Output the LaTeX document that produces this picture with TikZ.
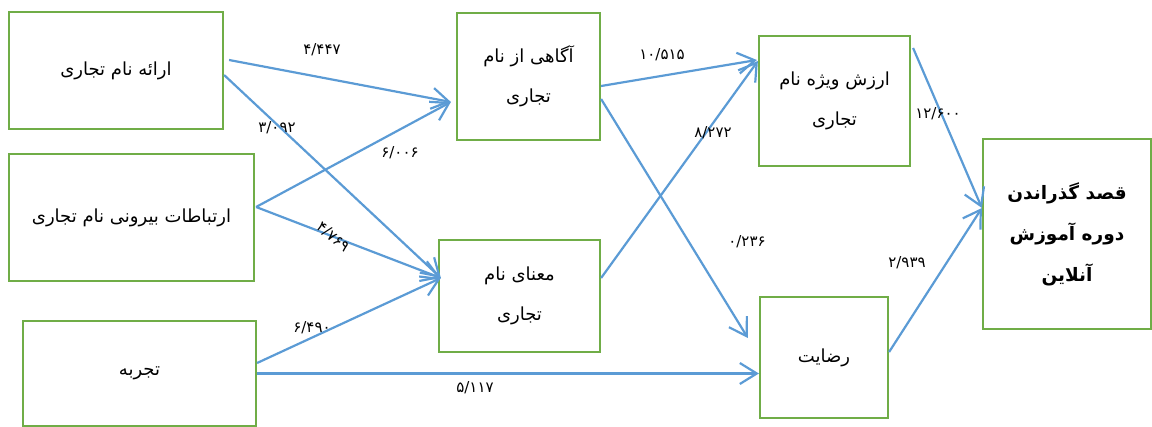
\documentclass[tikz,border=0pt]{standalone}
\usepackage{fontspec}
\usetikzlibrary{arrows.meta,calc}
\TeXXeTstate=1
\newfontfamily\arabicfont[Script=Arabic]{DejaVu Sans}
\newfontfamily\numfont{DejaVu Sans}
\definecolor{boxgreen}{HTML}{70AD47}
\definecolor{arrowblue}{HTML}{5B9BD5}
\tikzset{
  box/.style={draw=boxgreen,line width=2.2pt,inner sep=0pt,align=center,
    font=\arabicfont\fontsize{18pt}{40pt}\selectfont},
  conn/.style={draw=arrowblue,line width=2.2pt,-{Straight Barb[length=17pt,width=21pt]}},
  num/.style={font=\numfont\fontsize{15pt}{17pt}\selectfont,inner sep=0pt}
}
\begin{document}
\begin{tikzpicture}[x=1pt,y=-1pt]
\useasboundingbox (0,0) rectangle (1152,427);
% boxes
\node[box,minimum width=214pt,minimum height=117pt] (present) at (116,70.5) {\beginR ارائه نام تجاری\endR};
\node[box,minimum width=245pt,minimum height=127pt] (external) at (131.5,217.5) {\beginR ارتباطات بیرونی نام تجاری\endR};
\node[box,minimum width=233pt,minimum height=105pt] (exper) at (139.5,373.5) {\beginR تجربه\endR};
\node[box,minimum width=143pt,minimum height=127pt] (aware) at (528.5,76.5) {\beginR آگاهی از نام\endR\\\beginR تجاری\endR};
\node[box,minimum width=161pt,minimum height=112pt] (meaning) at (519.5,296) {\beginR معنای نام\endR\\\beginR تجاری\endR};
\node[box,minimum width=151pt,minimum height=130pt] (equity) at (834.5,101) {\beginR ارزش ویژه نام\endR\\\beginR تجاری\endR};
\node[box,minimum width=128pt,minimum height=121pt] (satis) at (824,357.5) {\beginR رضایت\endR};
\node[box,minimum width=168pt,minimum height=190pt,font=\arabicfont\bfseries\fontsize{18.5pt}{41pt}\selectfont] (intent) at (1067,234) {\beginR قصد گذراندن\endR\\\beginR دوره آموزش\endR\\\beginR آنلاین\endR};
% connectors
\draw[conn] ($(present.east)+(5,-10.5)$) -- ($(aware.west)+(-5,25.5)$);
\draw[conn] ($(present.east)+(0,4.5)$) -- ($(meaning.west)+(3,-18)$);
\draw[conn] ($(external.east)+(1,-10.5)$) -- ($(aware.west)+(-5,25.5)$);
\draw[conn] ($(external.east)+(1,-10.5)$) -- ($(meaning.west)+(3,-18)$);
\draw[conn] ($(exper.east)+(0,-10.5)$) -- ($(meaning.west)+(3,-18)$);
\draw[conn] (exper.east) -- (exper.east -| satis.west);
\draw[conn] ($(aware.east)+(0,9.5)$) -- ($(equity.west)+(-1,-41)$);
\draw[conn] ($(meaning.east)+(0,-18)$) -- ($(equity.west)+(0,-40)$);
\draw[conn] ($(aware.east)+(0,22.5)$) -- ($(satis.west)+(-11,-19.5)$);
\draw[conn] ($(satis.east)+(0,-5.5)$) -- ($(intent.west)+(0,-26)$);
\draw[conn] ($(equity.east)+(2,-53)$) -- ($(intent.west)+(0,-26)$);
% labels
\node[num] (l1) at (322,50) {۴/۴۴۷};
\node[num] (l2) at (277,128) {۳/۰۹۲};
\node[num] (l3) at (400,153) {۶/۰۰۶};
\node[num,rotate=-40] (l4) at (333,237) {۴/۷۶۹};
\node[num] (l5) at (312,328) {۶/۴۹۰};
\node[num] (l6) at (475,388) {۵/۱۱۷};
\node[num] (l7) at (662,55) {۱۰/۵۱۵};
\node[num] (l8) at (713,133) {۸/۲۷۲};
\node[num] (l9) at (747,242) {۰/۲۳۶};
\node[num] (l10) at (907,263) {۲/۹۳۹};
\node[num] (l11) at (938,114) {۱۲/۶۰۰};
\end{tikzpicture}
\end{document}
